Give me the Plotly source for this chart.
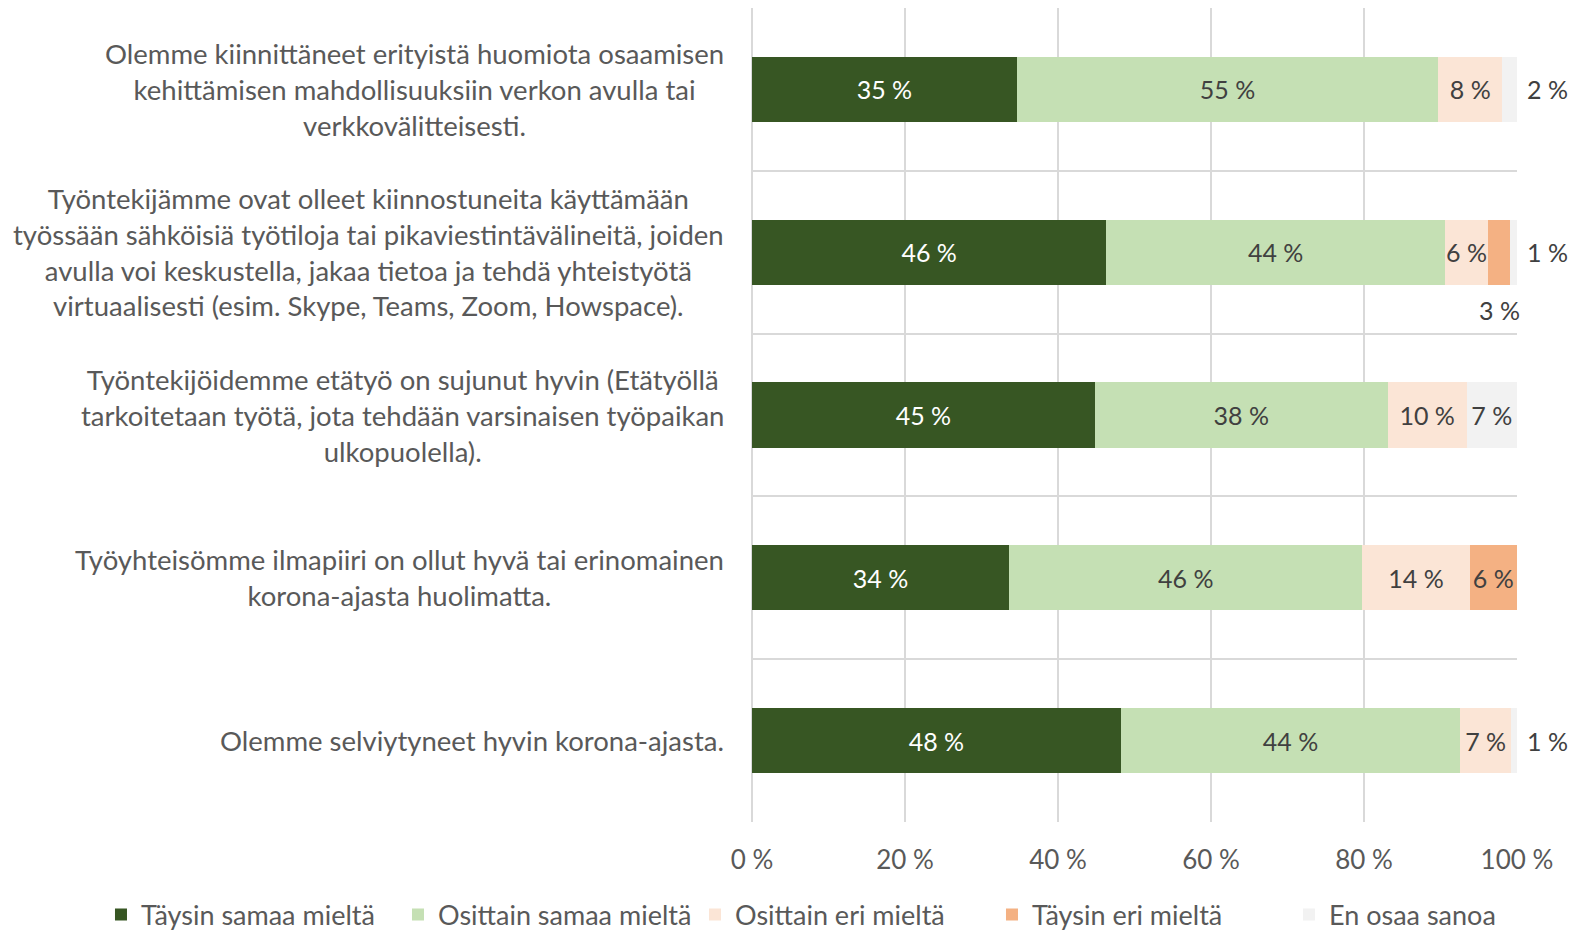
import plotly.graph_objects as go

categories = [
    "Olemme kiinnittäneet erityistä huomiota osaamisen<br>kehittämisen mahdollisuuksiin verkon avulla tai<br>verkkovälitteisesti.",
    "Työntekijämme ovat olleet kiinnostuneita käyttämään<br>työssään sähköisiä työtiloja tai pikaviestintävälineitä, joiden<br>avulla voi keskustella, jakaa tietoa ja tehdä yhteistyötä<br>virtuaalisesti (esim. Skype, Teams, Zoom, Howspace).",
    "Työntekijöidemme etätyö on sujunut hyvin (Etätyöllä<br>tarkoitetaan työtä, jota tehdään varsinaisen työpaikan<br>ulkopuolella).",
    "Työyhteisömme ilmapiiri on ollut hyvä tai erinomainen<br>korona-ajasta huolimatta.",
    "Olemme selviytyneet hyvin korona-ajasta.",
]

series_names = ["Täysin samaa mieltä", "Osittain samaa mieltä", "Osittain eri mieltä",
                "Täysin eri mieltä", "En osaa sanoa"]

taysin_samaa = [34.6, 46.3, 44.8, 33.6, 48.2]
osittain_samaa = [55.1, 44.3, 38.3, 46.2, 44.4]
osittain_eri = [8.4, 5.6, 10.3, 14.0, 6.6]
taysin_eri = [0.0, 2.9, 0.0, 6.2, 0.0]
en_osaa = [1.9, 0.9, 6.6, 0.0, 0.8]

tick_vals = [0, 20, 40, 60, 80, 100]
tick_labels = ["0 %", "20 %", "40 %", "60 %", "80 %", "100 %"]

colors = ["#375623", "#C5E0B4", "#FBE5D6", "#F4B183", "#F2F2F2"]
text_colors = ["white", "#404040", "#404040", "#404040", "#404040"]
FONT = "Lato"
GREY = "#595959"

series = [taysin_samaa, osittain_samaa, osittain_eri, taysin_eri, en_osaa]

fig = go.Figure()
for i, (name, vals) in enumerate(zip(series_names, series)):
    # tiny segments get their label as an annotation instead (see below)
    texts = [f"{v:.0f} %" if v >= 4 else "" for v in vals]
    fig.add_trace(go.Bar(
        name=name, y=categories, x=vals, orientation="h",
        marker=dict(color=colors[i], line=dict(width=0)),
        text=texts, textposition="inside", texttemplate="%{text}",
        insidetextanchor="middle", constraintext="none", textangle=0,
        insidetextfont=dict(color=text_colors[i], size=25, family=FONT),
        cliponaxis=False, hoverinfo="skip",
    ))

# labels of the small segments: "En osaa sanoa" right of the bar, "Täysin eri mieltä" below it
for j in range(len(categories)):
    total = round(taysin_samaa[j] + osittain_samaa[j] + osittain_eri[j] + taysin_eri[j] + en_osaa[j], 6)
    if 0 < en_osaa[j] < 4:
        fig.add_annotation(x=total, y=categories[j], text=f"{en_osaa[j]:.0f} %",
                           showarrow=False, xanchor="left", xshift=8,
                           font=dict(color="#404040", size=25, family=FONT))
    if 0 < taysin_eri[j] < 4:
        mid = taysin_samaa[j] + osittain_samaa[j] + osittain_eri[j] + taysin_eri[j] / 2
        fig.add_annotation(x=mid, y=categories[j], text=f"{taysin_eri[j]:.0f} %",
                           showarrow=False, yshift=-58,
                           font=dict(color="#404040", size=25, family=FONT))

# category labels, centred text blocks right-aligned to the axis
for c in categories:
    fig.add_annotation(x=0, xref="paper", y=c, text=c, showarrow=False,
                       xanchor="right", align="center", xshift=-26,
                       font=dict(color=GREY, size=27.5, family=FONT))

# the page body adds an 8px offset, so the top margin is 0 here
fig.update_layout(
    width=1584, height=932,
    barmode="stack", bargap=0.6,
    plot_bgcolor="white", paper_bgcolor="white",
    margin=dict(l=744, r=75, t=0, b=118, autoexpand=False),
    font=dict(family=FONT, size=25, color=GREY),
    showlegend=True,
    legend=dict(orientation="h", x=-0.851, xanchor="left", y=-0.1143, yanchor="middle",
                font=dict(size=27, color=GREY), traceorder="normal",
                itemwidth=30, entrywidth=252, entrywidthmode="pixels"),
)
fig.update_xaxes(range=[0, 100.001], tickvals=tick_vals, ticktext=tick_labels,
                 showgrid=True, gridcolor="#D9D9D9", gridwidth=2,
                 zeroline=True, zerolinecolor="#D9D9D9", zerolinewidth=2,
                 showline=False, ticks="", ticklabelstandoff=20,
                 tickfont=dict(size=26, color=GREY))
fig.update_yaxes(type="category", autorange="reversed", tickson="boundaries",
                 showgrid=True, gridcolor="#D9D9D9", gridwidth=2,
                 showticklabels=False, ticks="", showline=False, zeroline=False)

fig.write_html("out.html")
